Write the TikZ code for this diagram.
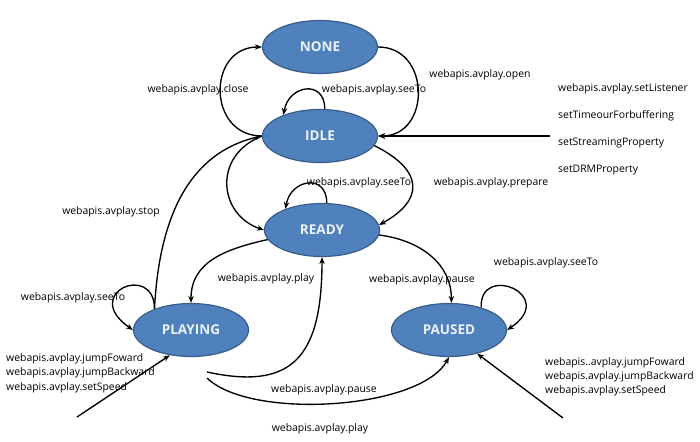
\documentclass[tikz,border=0pt]{standalone}
\usepackage{fontspec}
\setmainfont{Open Sans}
\usetikzlibrary{shapes.geometric,arrows.meta}
\definecolor{stfill}{RGB}{79,129,189}
\definecolor{stedge}{RGB}{56,93,138}
\definecolor{sttext}{RGB}{236,242,250}
\begin{document}
\begin{tikzpicture}[x=1pt,y=-1pt,
  state/.style={ellipse,draw=stedge,line width=1.2pt,fill=stfill,minimum width=115pt,minimum height=53pt,inner sep=0pt,text=sttext,font=\fontsize{13.5}{15}\selectfont\bfseries},
  lab/.style={font=\fontsize{10.4}{12}\selectfont,text=black,inner sep=0pt},
  llab/.style={lab,anchor=west},
  conn/.style={line width=1.35pt,-{Stealth[length=7pt,width=5.5pt]}}]
\useasboundingbox (0,0) rectangle (700,441);
\node[state] (none) at (320,47) {NONE};
\node[state] (idle) at (320,136) {IDLE};
\node[state] (ready) at (322,230) {READY};
\node[state] (playing) at (191,330) {PLAYING};
\node[state] (paused) at (449,330) {PAUSED};
\coordinate (inI) at (550,136);
\coordinate (inPl) at (77,417);
\coordinate (inPa) at (563,418);
\coordinate (p1) at (207,372);
\coordinate (p2) at (207,378);
% NONE / IDLE
\draw[conn] (idle.west) .. controls +(-55,0) and +(-55,0) .. (none.west);
\draw[conn] (none.east) .. controls +(53,0) and +(53,0) .. (idle.east);
\draw[conn] (idle.80) .. controls +(0,-30) and +(5,-30) .. (idle.150);
\draw[conn,line width=1.6pt] (inI) -- (idle.east);
% IDLE -> READY
\draw[conn] (idle.west) .. controls +(-50,20) and +(-45,-15) .. (ready.west);
\draw[conn] (idle.-10) .. controls +(50,25) and +(45,-25) .. (ready.5);
\draw[conn] (ready.80) .. controls +(0,-30) and +(5,-30) .. (ready.150);
% PLAYING
\draw[conn] (playing.150) .. controls (160,200) and (200,150) .. (idle.west);
\draw[conn] (ready.190) .. controls +(-45,10) and +(0,-40) .. (playing.north);
\draw[conn] (playing.150) .. controls +(0,-47) and +(-53,-37) .. (playing.west);
\draw[conn] (inPl) -- (playing.-130);
\draw[conn] (p1) .. controls (290,390) and (322,360) .. (ready.south);
\draw[conn] (p2) .. controls (250,420) and (420,410) .. (paused.-90);
% PAUSED
\draw[conn] (ready.-5) .. controls +(40,5) and +(0,-40) .. (paused.85);
\draw[conn] (paused.35) .. controls +(-2,-45) and +(52,-35) .. (paused.east);
\draw[conn] (inPa) -- (paused.-40);
% labels
\node[lab] (lclose) at (198,90) {webapis.avplay.close};
\node[lab] (lseeI) at (374,90) {webapis.avplay.seeTo};
\node[lab] (lopen) at (480,75) {webapis.avplay.open};
\node[llab] (lr1) at (558,89) {webapis.avplay.setListener};
\node[llab] (lr2) at (558,116) {setTimeourForbuffering};
\node[llab] (lr3) at (558,143) {setStreamingProperty};
\node[llab] (lr4) at (558,170) {setDRMProperty};
\node[lab] (lstop) at (111,212) {webapis.avplay.stop};
\node[lab] (lseeR) at (359,183) {webapis.avplay.seeTo};
\node[lab] (lprep) at (491,183) {webapis.avplay.prepare};
\node[lab] (lplay) at (266,279) {webapis.avplay.play};
\node[lab] (lseeP) at (73,298) {webapis.avplay.seeTo};
\node[llab] (lpl1) at (6,359) {webapis.avplay.jumpFoward};
\node[llab] (lpl2) at (6,373) {webapis.avplay.jumpBackward};
\node[llab] (lpl3) at (6,388) {webapis.avplay.setSpeed};
\node[lab] (lpause) at (422,280) {webapis.avplay.pause};
\node[lab] (lseePa) at (546,263) {webapis.avplay.seeTo};
\node[llab] (lpa1) at (545,363) {webapis..avplay.jumpFoward};
\node[llab] (lpa2) at (545,377) {webapis.avplay.jumpBackward};
\node[llab] (lpa3) at (545,391) {webapis.avplay.setSpeed};
\node[lab] (lbpause) at (324,390) {webapis.avplay.pause};
\node[lab] (lbplay) at (320,429) {webapis.avplay.play};
\end{tikzpicture}
\end{document}
